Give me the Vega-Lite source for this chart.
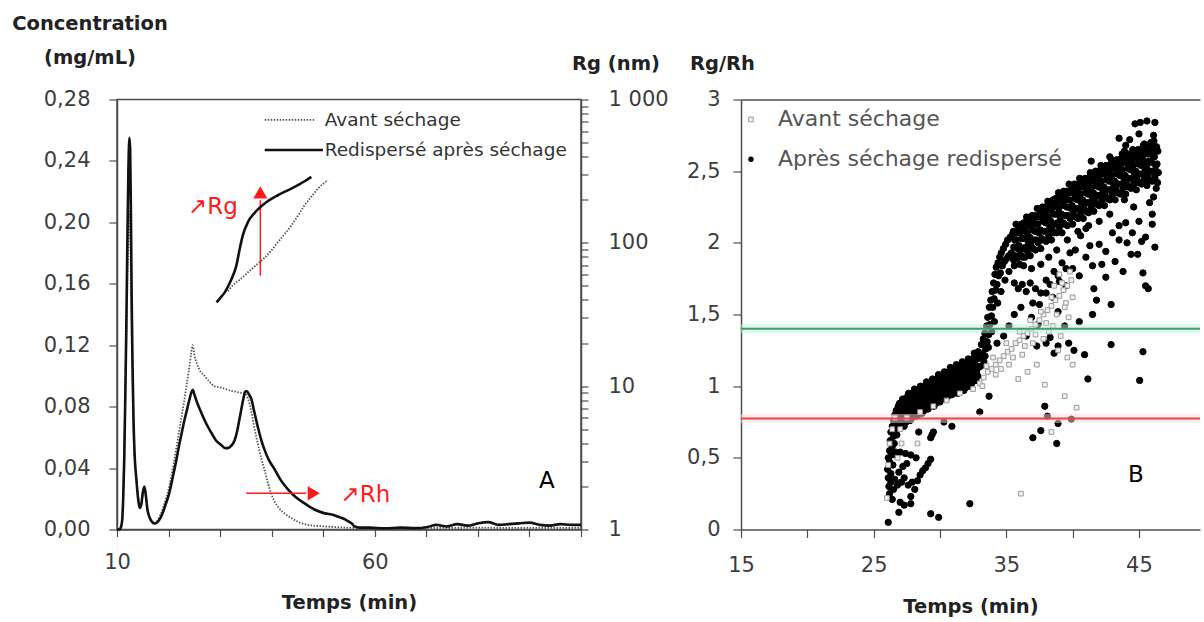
{
"$schema": "https://vega.github.io/schema/vega-lite/v6.json",
"padding": {"left": 10, "top": 12.5, "right": 0, "bottom": 0},
"background": "white",
"config": {
 "font": "DejaVu Sans",
 "view": {"stroke": null},
 "axis": {"grid": false, "labelFont": "DejaVu Sans", "labelFontSize": 21, "labelColor": "#3d3d3d", "titleFont": "DejaVu Sans", "titleFontSize": 19.5, "titleFontWeight": "bold", "titleColor": "#222222", "domainColor": "#4d4d4d", "domainWidth": 1.5, "tickColor": "#4d4d4d", "tickWidth": 1.2, "labelOverlap": false, "labelFlush": false}
},
"datasets": {
 "concRedisp": [
  {"t":10.0,"c":0.0},{"t":10.5,"c":0.0},{"t":10.8,"c":0.002},{"t":11.0,"c":0.006},{"t":11.2,"c":0.02},{"t":11.4,"c":0.045},{"t":11.6,"c":0.085},{"t":11.8,"c":0.13},{"t":12.0,"c":0.185},{"t":12.2,"c":0.232},{"t":12.4,"c":0.255},{"t":12.55,"c":0.248},{"t":12.7,"c":0.205},{"t":12.85,"c":0.15},{"t":13.0,"c":0.11},{"t":13.2,"c":0.072},{"t":13.4,"c":0.05},{"t":13.75,"c":0.033},{"t":14.1,"c":0.02},{"t":14.4,"c":0.014},{"t":14.7,"c":0.016},{"t":15.0,"c":0.024},{"t":15.3,"c":0.028},{"t":15.6,"c":0.022},{"t":15.9,"c":0.013},{"t":16.3,"c":0.008},{"t":16.8,"c":0.005},{"t":17.3,"c":0.004},{"t":17.9,"c":0.005},{"t":18.5,"c":0.008},{"t":19.0,"c":0.012},{"t":19.5,"c":0.017},{"t":20.0,"c":0.022},{"t":20.5,"c":0.029},{"t":21.0,"c":0.037},{"t":21.5,"c":0.045},{"t":22.0,"c":0.054},{"t":22.5,"c":0.062},{"t":23.0,"c":0.07},{"t":23.5,"c":0.077},{"t":24.0,"c":0.084},{"t":24.4,"c":0.089},{"t":24.7,"c":0.091},{"t":25.0,"c":0.088},{"t":25.5,"c":0.083},{"t":26.35,"c":0.076},{"t":27.3,"c":0.069},{"t":28.3,"c":0.063},{"t":29.2,"c":0.058},{"t":30.2,"c":0.055},{"t":31.0,"c":0.053},{"t":31.5,"c":0.053},{"t":32.0,"c":0.054},{"t":32.5,"c":0.056},{"t":32.8,"c":0.058},{"t":33.3,"c":0.064},{"t":33.7,"c":0.071},{"t":34.1,"c":0.078},{"t":34.5,"c":0.085},{"t":34.9,"c":0.09},{"t":35.2,"c":0.09},{"t":35.6,"c":0.088},{"t":36.05,"c":0.085},{"t":36.6,"c":0.077},{"t":37.3,"c":0.067},{"t":38.0,"c":0.058},{"t":38.6,"c":0.052},{"t":39.5,"c":0.045},{"t":40.6,"c":0.039},{"t":41.8,"c":0.032},{"t":43.2,"c":0.026},{"t":44.7,"c":0.021},{"t":46.4,"c":0.017},{"t":48.3,"c":0.013},{"t":50.3,"c":0.0105},{"t":52.0,"c":0.0095},{"t":52.9,"c":0.0083},{"t":54.0,"c":0.007},{"t":54.8,"c":0.0055},{"t":55.5,"c":0.004},{"t":56.1,"c":0.002},{"t":57.0,"c":0.0012},{"t":59.0,"c":0.0012},{"t":62.0,"c":0.0008},{"t":65.0,"c":0.0012},{"t":68.0,"c":0.0009},{"t":70.0,"c":0.0015},{"t":72.0,"c":0.003},{"t":74.0,"c":0.002},{"t":76.0,"c":0.0035},{"t":78.0,"c":0.0025},{"t":80.0,"c":0.004},{"t":82.0,"c":0.0048},{"t":84.0,"c":0.003},{"t":86.0,"c":0.0035},{"t":88.0,"c":0.004},{"t":90.0,"c":0.0045},{"t":92.0,"c":0.003},{"t":94.0,"c":0.0025},{"t":96.0,"c":0.0035},{"t":98.0,"c":0.003},{"t":100.0,"c":0.003}
 ],
 "concAvant": [
  {"t":10.0,"c":0.0},{"t":10.6,"c":0.0},{"t":10.9,"c":0.003},{"t":11.1,"c":0.012},{"t":11.3,"c":0.035},{"t":11.5,"c":0.07},{"t":11.7,"c":0.105},{"t":11.9,"c":0.14},{"t":12.1,"c":0.175},{"t":12.3,"c":0.2},{"t":12.45,"c":0.207},{"t":12.6,"c":0.19},{"t":12.75,"c":0.15},{"t":12.9,"c":0.115},{"t":13.1,"c":0.08},{"t":13.3,"c":0.055},{"t":13.6,"c":0.04},{"t":13.9,"c":0.028},{"t":14.2,"c":0.019},{"t":14.5,"c":0.015},{"t":14.8,"c":0.018},{"t":15.1,"c":0.025},{"t":15.35,"c":0.027},{"t":15.65,"c":0.021},{"t":16.0,"c":0.012},{"t":16.5,"c":0.006},{"t":17.0,"c":0.004},{"t":17.5,"c":0.004},{"t":18.0,"c":0.007},{"t":18.5,"c":0.01},{"t":19.0,"c":0.015},{"t":19.5,"c":0.02},{"t":20.0,"c":0.026},{"t":20.5,"c":0.034},{"t":21.0,"c":0.043},{"t":21.5,"c":0.053},{"t":22.0,"c":0.063},{"t":22.5,"c":0.073},{"t":23.0,"c":0.083},{"t":23.5,"c":0.094},{"t":24.0,"c":0.105},{"t":24.4,"c":0.115},{"t":24.7,"c":0.12},{"t":25.0,"c":0.114},{"t":25.5,"c":0.108},{"t":26.0,"c":0.104},{"t":27.0,"c":0.0999},{"t":28.0,"c":0.096},{"t":28.9,"c":0.0933},{"t":30.0,"c":0.0925},{"t":31.0,"c":0.0915},{"t":32.0,"c":0.0905},{"t":33.0,"c":0.0898},{"t":34.0,"c":0.089},{"t":34.8,"c":0.0887},{"t":35.3,"c":0.086},{"t":35.7,"c":0.082},{"t":36.1,"c":0.076},{"t":36.6,"c":0.067},{"t":37.3,"c":0.056},{"t":38.0,"c":0.046},{"t":38.6,"c":0.039},{"t":39.3,"c":0.03},{"t":39.9,"c":0.0235},{"t":40.6,"c":0.018},{"t":41.4,"c":0.014},{"t":42.5,"c":0.0105},{"t":43.8,"c":0.0075},{"t":45.1,"c":0.005},{"t":47.0,"c":0.003},{"t":50.3,"c":0.002},{"t":55.0,"c":0.0012},{"t":60.0,"c":0.001},{"t":70.0,"c":0.001},{"t":80.0,"c":0.0012},{"t":90.0,"c":0.001},{"t":100.0,"c":0.001}
 ],
 "rgRedisp": [
  {"t":29.3,"rg":38.4},{"t":30.1,"rg":41.5},{"t":30.9,"rg":45.1},{"t":31.7,"rg":51},{"t":32.5,"rg":59.1},{"t":33.15,"rg":69.4},{"t":33.8,"rg":90.7},{"t":34.4,"rg":112.7},{"t":35.4,"rg":139.7},{"t":36.7,"rg":162},{"t":38.6,"rg":187.6},{"t":41.2,"rg":214.8},{"t":43.8,"rg":239},{"t":46.4,"rg":269},{"t":47.7,"rg":288.5}
 ],
 "rgAvant": [
  {"t":31.5,"rg":46},{"t":32.5,"rg":50.7},{"t":34.0,"rg":56},{"t":35.4,"rg":62.3},{"t":37.0,"rg":70},{"t":38.6,"rg":78.5},{"t":40.0,"rg":89},{"t":41.2,"rg":101},{"t":42.5,"rg":115},{"t":43.8,"rg":132},{"t":45.1,"rg":155},{"t":46.4,"rg":183},{"t":47.7,"rg":210},{"t":49.0,"rg":239},{"t":50.9,"rg":274}
 ],
 "ratio": [
  {"t":26.05,"r":0.42,"s":"Après"},{"t":26.1,"r":0.5,"s":"Après"},{"t":26.1,"r":0.36,"s":"Après"},{"t":26.15,"r":0.3,"s":"Après"},{"t":26.2,"r":0.55,"s":"Après"},{"t":26.2,"r":0.47,"s":"Après"},{"t":26.25,"r":0.62,"s":"Après"},{"t":26.3,"r":0.39,"s":"Après"},{"t":26.3,"r":0.68,"s":"Après"},{"t":26.35,"r":0.52,"s":"Après"},{"t":26.4,"r":0.58,"s":"Après"},{"t":26.4,"r":0.72,"s":"Après"},{"t":26.45,"r":0.45,"s":"Après"},{"t":26.5,"r":0.65,"s":"Après"},{"t":26.5,"r":0.76,"s":"Après"},{"t":26.55,"r":0.6,"s":"Après"},{"t":26.6,"r":0.7,"s":"Après"},{"t":26.6,"r":0.8,"s":"Après"},{"t":26.65,"r":0.54,"s":"Après"},{"t":26.7,"r":0.74,"s":"Après"},{"t":26.7,"r":0.83,"s":"Après"},{"t":26.75,"r":0.66,"s":"Après"},{"t":26.8,"r":0.78,"s":"Après"},{"t":26.85,"r":0.86,"s":"Après"},{"t":26.9,"r":0.72,"s":"Après"},{"t":26.9,"r":0.81,"s":"Après"},{"t":26.95,"r":0.88,"s":"Après"},{"t":27.0,"r":0.77,"s":"Après"},
  {"t":26.1,"r":0.05,"s":"Après"},{"t":26.9,"r":0.12,"s":"Après"},{"t":27.8,"r":0.18,"s":"Après"},{"t":27.0,"r":0.19,"s":"Après"},{"t":27.8,"r":0.23,"s":"Après"},{"t":27.3,"r":0.17,"s":"Après"},{"t":26.3,"r":0.33,"s":"Après"},{"t":26.5,"r":0.28,"s":"Après"},{"t":26.6,"r":0.35,"s":"Après"},{"t":26.8,"r":0.31,"s":"Après"},{"t":27.1,"r":0.33,"s":"Après"},{"t":27.3,"r":0.36,"s":"Après"},{"t":27.6,"r":0.31,"s":"Après"},{"t":27.9,"r":0.33,"s":"Après"},{"t":28.1,"r":0.28,"s":"Après"},{"t":28.3,"r":0.34,"s":"Après"},{"t":28.5,"r":0.38,"s":"Après"},{"t":28.7,"r":0.41,"s":"Après"},{"t":28.9,"r":0.43,"s":"Après"},{"t":29.1,"r":0.46,"s":"Après"},{"t":29.3,"r":0.49,"s":"Après"},{"t":26.4,"r":0.53,"s":"Après"},{"t":26.7,"r":0.52,"s":"Après"},{"t":27.0,"r":0.54,"s":"Après"},{"t":27.4,"r":0.53,"s":"Après"},{"t":27.8,"r":0.52,"s":"Après"},{"t":28.2,"r":0.5,"s":"Après"},{"t":29.3,"r":0.11,"s":"Après"},{"t":29.9,"r":0.085,"s":"Après"},{"t":32.25,"r":0.18,"s":"Après"},{"t":26.2,"r":0.25,"s":"Après"},{"t":26.4,"r":0.21,"s":"Après"},{"t":28.4,"r":0.68,"s":"Après"},{"t":29.4,"r":0.66,"s":"Après"},{"t":29.5,"r":0.68,"s":"Après"},{"t":29.3,"r":0.64,"s":"Après"},{"t":30.3,"r":0.75,"s":"Après"},{"t":30.9,"r":0.72,"s":"Après"},{"t":33.0,"r":0.82,"s":"Après"},{"t":33.7,"r":0.93,"s":"Après"},{"t":27.2,"r":0.44,"s":"Après"},{"t":27.5,"r":0.46,"s":"Après"},{"t":26.9,"r":0.4,"s":"Après"},
  {"t":27.0,"r":0.71,"s":"Après"},{"t":27.05,"r":0.77,"s":"Après"},{"t":26.96,"r":0.83,"s":"Après"},{"t":27.03,"r":0.88,"s":"Après"},{"t":27.15,"r":0.74,"s":"Après"},{"t":27.2,"r":0.8,"s":"Après"},{"t":27.11,"r":0.86,"s":"Après"},{"t":27.18,"r":0.91,"s":"Après"},{"t":27.3,"r":0.72,"s":"Après"},{"t":27.35,"r":0.78,"s":"Après"},{"t":27.26,"r":0.83,"s":"Après"},{"t":27.33,"r":0.88,"s":"Après"},{"t":27.45,"r":0.75,"s":"Après"},{"t":27.5,"r":0.81,"s":"Après"},{"t":27.41,"r":0.87,"s":"Après"},{"t":27.48,"r":0.92,"s":"Après"},{"t":27.6,"r":0.78,"s":"Après"},{"t":27.65,"r":0.84,"s":"Après"},{"t":27.56,"r":0.9,"s":"Après"},{"t":27.63,"r":0.95,"s":"Après"},{"t":27.75,"r":0.76,"s":"Après"},{"t":27.8,"r":0.82,"s":"Après"},{"t":27.71,"r":0.87,"s":"Après"},{"t":27.78,"r":0.92,"s":"Après"},{"t":27.9,"r":0.78,"s":"Après"},{"t":27.95,"r":0.84,"s":"Après"},{"t":27.86,"r":0.9,"s":"Après"},{"t":27.93,"r":0.95,"s":"Après"},{"t":28.05,"r":0.81,"s":"Après"},{"t":28.1,"r":0.87,"s":"Après"},{"t":28.01,"r":0.93,"s":"Après"},{"t":28.08,"r":0.98,"s":"Après"},{"t":28.2,"r":0.79,"s":"Après"},{"t":28.25,"r":0.85,"s":"Après"},{"t":28.16,"r":0.9,"s":"Après"},{"t":28.23,"r":0.95,"s":"Après"},{"t":28.35,"r":0.8,"s":"Après"},{"t":28.4,"r":0.86,"s":"Après"},{"t":28.31,"r":0.92,"s":"Après"},{"t":28.38,"r":0.97,"s":"Après"},{"t":28.5,"r":0.83,"s":"Après"},{"t":28.55,"r":0.89,"s":"Après"},{"t":28.46,"r":0.95,"s":"Après"},{"t":28.53,"r":1.0,"s":"Après"},{"t":28.65,"r":0.81,"s":"Après"},{"t":28.7,"r":0.87,"s":"Après"},{"t":28.61,"r":0.92,"s":"Après"},{"t":28.68,"r":0.97,"s":"Après"},{"t":28.8,"r":0.83,"s":"Après"},{"t":28.85,"r":0.89,"s":"Après"},{"t":28.76,"r":0.95,"s":"Après"},{"t":28.83,"r":1.0,"s":"Après"},{"t":28.95,"r":0.86,"s":"Après"},{"t":29.0,"r":0.92,"s":"Après"},{"t":28.91,"r":0.98,"s":"Après"},{"t":28.98,"r":1.03,"s":"Après"},{"t":29.1,"r":0.84,"s":"Après"},{"t":29.15,"r":0.9,"s":"Après"},{"t":29.06,"r":0.95,"s":"Après"},{"t":29.13,"r":1.0,"s":"Après"},{"t":29.25,"r":0.86,"s":"Après"},{"t":29.3,"r":0.92,"s":"Après"},{"t":29.21,"r":0.98,"s":"Après"},{"t":29.28,"r":1.03,"s":"Après"},{"t":29.4,"r":0.88,"s":"Après"},{"t":29.45,"r":0.94,"s":"Après"},{"t":29.36,"r":1.0,"s":"Après"},{"t":29.43,"r":1.05,"s":"Après"},{"t":29.55,"r":0.86,"s":"Après"},{"t":29.6,"r":0.92,"s":"Après"},{"t":29.51,"r":0.97,"s":"Après"},{"t":29.58,"r":1.02,"s":"Après"},{"t":29.7,"r":0.88,"s":"Après"},{"t":29.75,"r":0.94,"s":"Après"},{"t":29.66,"r":1.0,"s":"Après"},{"t":29.73,"r":1.05,"s":"Après"},{"t":29.85,"r":0.91,"s":"Après"},{"t":29.9,"r":0.97,"s":"Après"},{"t":29.81,"r":1.03,"s":"Après"},{"t":29.88,"r":1.08,"s":"Après"},{"t":30.0,"r":0.89,"s":"Après"},{"t":30.05,"r":0.95,"s":"Après"},{"t":29.96,"r":1.0,"s":"Après"},{"t":30.03,"r":1.05,"s":"Après"},{"t":30.15,"r":0.91,"s":"Après"},{"t":30.2,"r":0.97,"s":"Après"},{"t":30.11,"r":1.03,"s":"Après"},{"t":30.18,"r":1.08,"s":"Après"},{"t":30.3,"r":0.94,"s":"Après"},{"t":30.35,"r":1.0,"s":"Après"},{"t":30.26,"r":1.06,"s":"Après"},{"t":30.33,"r":1.1,"s":"Après"},{"t":30.45,"r":0.91,"s":"Après"},{"t":30.5,"r":0.97,"s":"Après"},{"t":30.41,"r":1.02,"s":"Après"},{"t":30.48,"r":1.07,"s":"Après"},{"t":30.6,"r":0.93,"s":"Après"},{"t":30.65,"r":0.99,"s":"Après"},{"t":30.56,"r":1.05,"s":"Après"},{"t":30.63,"r":1.1,"s":"Après"},{"t":30.75,"r":0.96,"s":"Après"},{"t":30.8,"r":1.02,"s":"Après"},{"t":30.71,"r":1.08,"s":"Après"},{"t":30.78,"r":1.13,"s":"Après"},{"t":30.9,"r":0.94,"s":"Après"},{"t":30.95,"r":1.0,"s":"Après"},{"t":30.86,"r":1.05,"s":"Après"},{"t":30.93,"r":1.1,"s":"Après"},{"t":31.05,"r":0.95,"s":"Après"},{"t":31.1,"r":1.01,"s":"Après"},{"t":31.01,"r":1.07,"s":"Après"},{"t":31.08,"r":1.12,"s":"Après"},{"t":31.2,"r":0.98,"s":"Après"},{"t":31.25,"r":1.04,"s":"Après"},{"t":31.16,"r":1.1,"s":"Après"},{"t":31.23,"r":1.15,"s":"Après"},{"t":31.35,"r":0.95,"s":"Après"},{"t":31.4,"r":1.01,"s":"Après"},{"t":31.31,"r":1.06,"s":"Après"},{"t":31.38,"r":1.11,"s":"Après"},{"t":31.5,"r":0.97,"s":"Après"},{"t":31.55,"r":1.03,"s":"Après"},{"t":31.46,"r":1.09,"s":"Après"},{"t":31.53,"r":1.14,"s":"Après"},{"t":31.65,"r":1.0,"s":"Après"},{"t":31.7,"r":1.06,"s":"Après"},{"t":31.61,"r":1.12,"s":"Après"},{"t":31.68,"r":1.17,"s":"Après"},{"t":31.8,"r":0.97,"s":"Après"},{"t":31.85,"r":1.03,"s":"Après"},{"t":31.76,"r":1.08,"s":"Après"},{"t":31.83,"r":1.13,"s":"Après"},{"t":31.95,"r":0.99,"s":"Après"},{"t":32.0,"r":1.05,"s":"Après"},{"t":31.91,"r":1.11,"s":"Après"},{"t":31.98,"r":1.16,"s":"Après"},{"t":32.1,"r":1.02,"s":"Après"},{"t":32.15,"r":1.08,"s":"Après"},{"t":32.06,"r":1.14,"s":"Après"},{"t":32.13,"r":1.19,"s":"Après"},{"t":32.25,"r":1.0,"s":"Après"},{"t":32.3,"r":1.06,"s":"Après"},{"t":32.21,"r":1.11,"s":"Après"},{"t":32.28,"r":1.16,"s":"Après"},{"t":32.4,"r":1.02,"s":"Après"},{"t":32.45,"r":1.08,"s":"Après"},{"t":32.36,"r":1.14,"s":"Après"},{"t":32.43,"r":1.19,"s":"Après"},{"t":32.55,"r":1.06,"s":"Après"},{"t":32.6,"r":1.12,"s":"Après"},{"t":32.51,"r":1.18,"s":"Après"},{"t":32.58,"r":1.23,"s":"Après"},{"t":32.7,"r":1.04,"s":"Après"},{"t":32.75,"r":1.1,"s":"Après"},{"t":32.66,"r":1.15,"s":"Après"},{"t":32.73,"r":1.2,"s":"Après"},{"t":32.85,"r":1.07,"s":"Après"},{"t":32.9,"r":1.13,"s":"Après"},{"t":32.81,"r":1.19,"s":"Après"},{"t":32.88,"r":1.24,"s":"Après"},
  {"t":33.0,"r":1.2,"s":"Après"},{"t":33.08,"r":1.14,"s":"Après"},{"t":33.12,"r":1.29,"s":"Après"},{"t":33.2,"r":1.23,"s":"Après"},{"t":33.26,"r":1.33,"s":"Après"},{"t":33.31,"r":1.17,"s":"Après"},{"t":33.38,"r":1.37,"s":"Après"},{"t":33.45,"r":1.26,"s":"Après"},{"t":33.52,"r":1.42,"s":"Après"},{"t":33.55,"r":1.31,"s":"Après"},{"t":33.6,"r":1.48,"s":"Après"},{"t":33.68,"r":1.36,"s":"Après"},{"t":33.72,"r":1.55,"s":"Après"},{"t":33.77,"r":1.43,"s":"Après"},{"t":33.83,"r":1.6,"s":"Après"},{"t":33.88,"r":1.49,"s":"Après"},{"t":33.93,"r":1.66,"s":"Après"},{"t":33.98,"r":1.55,"s":"Après"},{"t":34.04,"r":1.72,"s":"Après"},{"t":34.08,"r":1.61,"s":"Après"},{"t":34.14,"r":1.78,"s":"Après"},{"t":34.2,"r":1.67,"s":"Après"},{"t":34.24,"r":1.83,"s":"Après"},{"t":34.3,"r":1.71,"s":"Après"},{"t":34.37,"r":1.86,"s":"Après"},{"t":34.42,"r":1.77,"s":"Après"},{"t":34.5,"r":1.9,"s":"Après"},{"t":34.55,"r":1.79,"s":"Après"},{"t":34.62,"r":1.93,"s":"Après"},{"t":34.7,"r":1.84,"s":"Après"},{"t":34.78,"r":1.96,"s":"Après"},{"t":34.86,"r":1.87,"s":"Après"},{"t":34.95,"r":1.99,"s":"Après"},{"t":35.02,"r":1.89,"s":"Après"},{"t":35.1,"r":2.02,"s":"Après"},{"t":35.18,"r":1.91,"s":"Après"},{"t":35.3,"r":2.04,"s":"Après"},{"t":35.38,"r":1.93,"s":"Après"},{"t":35.47,"r":2.06,"s":"Après"},{"t":35.55,"r":1.88,"s":"Après"},{"t":33.4,"r":1.21,"s":"Après"},{"t":33.65,"r":1.27,"s":"Après"},{"t":33.9,"r":1.38,"s":"Après"},{"t":34.1,"r":1.45,"s":"Après"},{"t":34.35,"r":1.58,"s":"Après"},{"t":34.6,"r":1.66,"s":"Après"},{"t":34.9,"r":1.74,"s":"Après"},{"t":35.2,"r":1.8,"s":"Après"},
  {"t":35.6,"r":1.84,"s":"Après"},{"t":35.66,"r":1.91,"s":"Après"},{"t":35.56,"r":1.97,"s":"Après"},{"t":35.63,"r":2.02,"s":"Après"},{"t":35.53,"r":2.08,"s":"Après"},{"t":35.8,"r":1.89,"s":"Après"},{"t":35.86,"r":1.96,"s":"Après"},{"t":35.76,"r":2.02,"s":"Après"},{"t":35.83,"r":2.07,"s":"Après"},{"t":35.73,"r":2.13,"s":"Après"},{"t":36.0,"r":1.85,"s":"Après"},{"t":36.06,"r":1.92,"s":"Après"},{"t":35.96,"r":1.98,"s":"Après"},{"t":36.03,"r":2.07,"s":"Après"},{"t":35.93,"r":2.1,"s":"Après"},{"t":36.2,"r":1.9,"s":"Après"},{"t":36.26,"r":1.96,"s":"Après"},{"t":36.16,"r":2.03,"s":"Après"},{"t":36.23,"r":2.1,"s":"Après"},{"t":36.13,"r":2.13,"s":"Après"},{"t":36.4,"r":1.9,"s":"Après"},{"t":36.46,"r":1.97,"s":"Après"},{"t":36.36,"r":2.03,"s":"Après"},{"t":36.43,"r":2.08,"s":"Après"},{"t":36.33,"r":2.14,"s":"Après"},{"t":36.6,"r":1.94,"s":"Après"},{"t":36.66,"r":2.01,"s":"Après"},{"t":36.56,"r":2.07,"s":"Après"},{"t":36.63,"r":2.12,"s":"Après"},{"t":36.53,"r":2.18,"s":"Après"},{"t":36.8,"r":1.91,"s":"Après"},{"t":36.86,"r":1.98,"s":"Après"},{"t":36.76,"r":2.04,"s":"Après"},{"t":36.83,"r":2.13,"s":"Après"},{"t":36.73,"r":2.16,"s":"Après"},{"t":37.0,"r":1.96,"s":"Après"},{"t":37.06,"r":2.02,"s":"Après"},{"t":36.96,"r":2.09,"s":"Après"},{"t":37.03,"r":2.16,"s":"Après"},{"t":36.93,"r":2.19,"s":"Après"},{"t":37.2,"r":1.95,"s":"Après"},{"t":37.26,"r":2.02,"s":"Après"},{"t":37.16,"r":2.08,"s":"Après"},{"t":37.23,"r":2.13,"s":"Après"},{"t":37.13,"r":2.19,"s":"Après"},{"t":37.4,"r":2.0,"s":"Après"},{"t":37.46,"r":2.07,"s":"Après"},{"t":37.36,"r":2.13,"s":"Après"},{"t":37.43,"r":2.18,"s":"Après"},{"t":37.33,"r":2.24,"s":"Après"},{"t":37.6,"r":1.96,"s":"Après"},{"t":37.66,"r":2.03,"s":"Après"},{"t":37.56,"r":2.09,"s":"Après"},{"t":37.63,"r":2.18,"s":"Après"},{"t":37.53,"r":2.21,"s":"Après"},{"t":37.8,"r":2.02,"s":"Après"},{"t":37.86,"r":2.08,"s":"Après"},{"t":37.76,"r":2.15,"s":"Après"},{"t":37.83,"r":2.22,"s":"Après"},{"t":37.73,"r":2.25,"s":"Après"},{"t":38.0,"r":2.01,"s":"Après"},{"t":38.06,"r":2.08,"s":"Après"},{"t":37.96,"r":2.14,"s":"Après"},{"t":38.03,"r":2.19,"s":"Après"},{"t":37.93,"r":2.25,"s":"Après"},{"t":38.2,"r":2.05,"s":"Après"},{"t":38.26,"r":2.12,"s":"Après"},{"t":38.16,"r":2.18,"s":"Après"},{"t":38.23,"r":2.23,"s":"Après"},{"t":38.13,"r":2.29,"s":"Après"},{"t":38.4,"r":2.02,"s":"Après"},{"t":38.46,"r":2.09,"s":"Après"},{"t":38.36,"r":2.15,"s":"Après"},{"t":38.43,"r":2.24,"s":"Après"},{"t":38.33,"r":2.27,"s":"Après"},{"t":38.6,"r":2.07,"s":"Après"},{"t":38.66,"r":2.13,"s":"Après"},{"t":38.56,"r":2.2,"s":"Après"},{"t":38.63,"r":2.27,"s":"Après"},{"t":38.53,"r":2.3,"s":"Après"},{"t":38.8,"r":2.07,"s":"Après"},{"t":38.86,"r":2.14,"s":"Après"},{"t":38.76,"r":2.2,"s":"Après"},{"t":38.83,"r":2.25,"s":"Après"},{"t":38.73,"r":2.31,"s":"Après"},{"t":39.0,"r":2.11,"s":"Après"},{"t":39.06,"r":2.18,"s":"Après"},{"t":38.96,"r":2.24,"s":"Après"},{"t":39.03,"r":2.29,"s":"Après"},{"t":38.93,"r":2.35,"s":"Après"},{"t":39.2,"r":2.07,"s":"Après"},{"t":39.26,"r":2.14,"s":"Après"},{"t":39.16,"r":2.2,"s":"Après"},{"t":39.23,"r":2.29,"s":"Après"},{"t":39.13,"r":2.32,"s":"Après"},{"t":39.4,"r":2.13,"s":"Après"},{"t":39.46,"r":2.19,"s":"Après"},{"t":39.36,"r":2.26,"s":"Après"},{"t":39.43,"r":2.33,"s":"Après"},{"t":39.33,"r":2.36,"s":"Après"},{"t":39.6,"r":2.12,"s":"Après"},{"t":39.66,"r":2.19,"s":"Après"},{"t":39.56,"r":2.25,"s":"Après"},{"t":39.63,"r":2.3,"s":"Après"},{"t":39.53,"r":2.36,"s":"Après"},{"t":39.8,"r":2.17,"s":"Après"},{"t":39.86,"r":2.24,"s":"Après"},{"t":39.76,"r":2.3,"s":"Après"},{"t":39.83,"r":2.35,"s":"Après"},{"t":39.73,"r":2.41,"s":"Après"},{"t":40.0,"r":2.13,"s":"Après"},{"t":40.06,"r":2.2,"s":"Après"},{"t":39.96,"r":2.26,"s":"Après"},{"t":40.03,"r":2.35,"s":"Après"},{"t":39.93,"r":2.38,"s":"Après"},{"t":40.2,"r":2.18,"s":"Après"},{"t":40.26,"r":2.24,"s":"Après"},{"t":40.16,"r":2.31,"s":"Après"},{"t":40.23,"r":2.38,"s":"Après"},{"t":40.13,"r":2.41,"s":"Après"},{"t":40.4,"r":2.17,"s":"Après"},{"t":40.46,"r":2.24,"s":"Après"},{"t":40.36,"r":2.3,"s":"Après"},{"t":40.43,"r":2.35,"s":"Après"},{"t":40.33,"r":2.41,"s":"Après"},{"t":40.6,"r":2.21,"s":"Après"},{"t":40.66,"r":2.28,"s":"Après"},{"t":40.56,"r":2.34,"s":"Après"},{"t":40.63,"r":2.39,"s":"Après"},{"t":40.53,"r":2.45,"s":"Après"},{"t":40.8,"r":2.17,"s":"Après"},{"t":40.86,"r":2.24,"s":"Après"},{"t":40.76,"r":2.3,"s":"Après"},{"t":40.83,"r":2.39,"s":"Après"},{"t":40.73,"r":2.42,"s":"Après"},{"t":41.0,"r":2.22,"s":"Après"},{"t":41.06,"r":2.28,"s":"Après"},{"t":40.96,"r":2.35,"s":"Après"},{"t":41.03,"r":2.42,"s":"Après"},{"t":40.93,"r":2.45,"s":"Après"},{"t":41.2,"r":2.21,"s":"Après"},{"t":41.26,"r":2.28,"s":"Après"},{"t":41.16,"r":2.34,"s":"Après"},{"t":41.23,"r":2.39,"s":"Après"},{"t":41.13,"r":2.45,"s":"Après"},{"t":41.4,"r":2.25,"s":"Après"},{"t":41.46,"r":2.32,"s":"Après"},{"t":41.36,"r":2.38,"s":"Après"},{"t":41.43,"r":2.43,"s":"Après"},{"t":41.33,"r":2.49,"s":"Après"},{"t":41.6,"r":2.22,"s":"Après"},{"t":41.66,"r":2.29,"s":"Après"},{"t":41.56,"r":2.35,"s":"Après"},{"t":41.63,"r":2.44,"s":"Après"},{"t":41.53,"r":2.47,"s":"Après"},{"t":41.8,"r":2.27,"s":"Après"},{"t":41.86,"r":2.33,"s":"Après"},{"t":41.76,"r":2.4,"s":"Après"},{"t":41.83,"r":2.47,"s":"Après"},{"t":41.73,"r":2.5,"s":"Après"},{"t":42.0,"r":2.26,"s":"Après"},{"t":42.06,"r":2.33,"s":"Après"},{"t":41.96,"r":2.39,"s":"Après"},{"t":42.03,"r":2.44,"s":"Après"},{"t":41.93,"r":2.5,"s":"Après"},{"t":42.2,"r":2.3,"s":"Après"},{"t":42.26,"r":2.37,"s":"Après"},{"t":42.16,"r":2.43,"s":"Après"},{"t":42.23,"r":2.48,"s":"Après"},{"t":42.13,"r":2.54,"s":"Après"},{"t":42.4,"r":2.26,"s":"Après"},{"t":42.46,"r":2.33,"s":"Après"},{"t":42.36,"r":2.39,"s":"Après"},{"t":42.43,"r":2.48,"s":"Après"},{"t":42.33,"r":2.51,"s":"Après"},{"t":42.6,"r":2.31,"s":"Après"},{"t":42.66,"r":2.37,"s":"Après"},{"t":42.56,"r":2.44,"s":"Après"},{"t":42.63,"r":2.51,"s":"Après"},{"t":42.53,"r":2.54,"s":"Après"},{"t":42.8,"r":2.3,"s":"Après"},{"t":42.86,"r":2.37,"s":"Après"},{"t":42.76,"r":2.43,"s":"Après"},{"t":42.83,"r":2.48,"s":"Après"},{"t":42.73,"r":2.54,"s":"Après"},{"t":43.0,"r":2.34,"s":"Après"},{"t":43.06,"r":2.41,"s":"Après"},{"t":42.96,"r":2.47,"s":"Après"},{"t":43.03,"r":2.52,"s":"Après"},{"t":42.93,"r":2.58,"s":"Après"},{"t":43.2,"r":2.3,"s":"Après"},{"t":43.26,"r":2.37,"s":"Après"},{"t":43.16,"r":2.43,"s":"Après"},{"t":43.23,"r":2.52,"s":"Après"},{"t":43.13,"r":2.55,"s":"Après"},{"t":43.4,"r":2.35,"s":"Après"},{"t":43.46,"r":2.41,"s":"Après"},{"t":43.36,"r":2.48,"s":"Après"},{"t":43.43,"r":2.55,"s":"Après"},{"t":43.33,"r":2.58,"s":"Après"},{"t":43.6,"r":2.34,"s":"Après"},{"t":43.66,"r":2.41,"s":"Après"},{"t":43.56,"r":2.47,"s":"Après"},{"t":43.63,"r":2.52,"s":"Après"},{"t":43.53,"r":2.58,"s":"Après"},{"t":43.8,"r":2.38,"s":"Après"},{"t":43.86,"r":2.45,"s":"Après"},{"t":43.76,"r":2.51,"s":"Après"},{"t":43.83,"r":2.56,"s":"Après"},{"t":43.73,"r":2.62,"s":"Après"},{"t":44.0,"r":2.34,"s":"Après"},{"t":44.06,"r":2.41,"s":"Après"},{"t":43.96,"r":2.47,"s":"Après"},{"t":44.03,"r":2.56,"s":"Après"},{"t":43.93,"r":2.59,"s":"Après"},{"t":44.2,"r":2.39,"s":"Après"},{"t":44.26,"r":2.45,"s":"Après"},{"t":44.16,"r":2.52,"s":"Après"},{"t":44.23,"r":2.59,"s":"Après"},{"t":44.13,"r":2.62,"s":"Après"},{"t":44.4,"r":2.38,"s":"Après"},{"t":44.46,"r":2.45,"s":"Après"},{"t":44.36,"r":2.51,"s":"Après"},{"t":44.43,"r":2.56,"s":"Après"},{"t":44.33,"r":2.62,"s":"Après"},{"t":44.6,"r":2.41,"s":"Après"},{"t":44.66,"r":2.48,"s":"Après"},{"t":44.56,"r":2.54,"s":"Après"},{"t":44.63,"r":2.59,"s":"Après"},{"t":44.53,"r":2.65,"s":"Après"},{"t":44.8,"r":2.37,"s":"Après"},{"t":44.86,"r":2.44,"s":"Après"},{"t":44.76,"r":2.5,"s":"Après"},{"t":44.83,"r":2.59,"s":"Après"},{"t":44.73,"r":2.62,"s":"Après"},{"t":45.0,"r":2.42,"s":"Après"},{"t":45.06,"r":2.48,"s":"Après"},{"t":44.96,"r":2.55,"s":"Après"},{"t":45.03,"r":2.62,"s":"Après"},{"t":44.93,"r":2.65,"s":"Après"},{"t":45.2,"r":2.41,"s":"Après"},{"t":45.26,"r":2.48,"s":"Après"},{"t":45.16,"r":2.54,"s":"Après"},{"t":45.23,"r":2.59,"s":"Après"},{"t":45.13,"r":2.65,"s":"Après"},{"t":45.4,"r":2.44,"s":"Après"},{"t":45.46,"r":2.51,"s":"Après"},{"t":45.36,"r":2.57,"s":"Après"},{"t":45.43,"r":2.62,"s":"Après"},{"t":45.33,"r":2.68,"s":"Après"},{"t":45.6,"r":2.4,"s":"Après"},{"t":45.66,"r":2.47,"s":"Après"},{"t":45.56,"r":2.53,"s":"Après"},{"t":45.63,"r":2.62,"s":"Après"},{"t":45.53,"r":2.65,"s":"Après"},{"t":45.8,"r":2.44,"s":"Après"},{"t":45.86,"r":2.5,"s":"Après"},{"t":45.76,"r":2.57,"s":"Après"},{"t":45.83,"r":2.64,"s":"Après"},{"t":45.73,"r":2.67,"s":"Après"},{"t":46.0,"r":2.43,"s":"Après"},{"t":46.06,"r":2.5,"s":"Après"},{"t":45.96,"r":2.56,"s":"Après"},{"t":46.03,"r":2.61,"s":"Après"},{"t":45.93,"r":2.67,"s":"Après"},{"t":46.2,"r":2.47,"s":"Après"},{"t":46.26,"r":2.54,"s":"Après"},{"t":46.16,"r":2.6,"s":"Après"},{"t":46.23,"r":2.65,"s":"Après"},{"t":46.13,"r":2.71,"s":"Après"},{"t":46.4,"r":2.42,"s":"Après"},{"t":46.46,"r":2.49,"s":"Après"},{"t":46.36,"r":2.55,"s":"Après"},{"t":46.43,"r":2.64,"s":"Après"},{"t":46.33,"r":2.67,"s":"Après"},
  {"t":44.7,"r":2.83,"s":"Après"},{"t":45.1,"r":2.84,"s":"Après"},{"t":45.6,"r":2.85,"s":"Après"},{"t":46.2,"r":2.84,"s":"Après"},{"t":43.5,"r":2.73,"s":"Après"},{"t":44.3,"r":2.72,"s":"Après"},{"t":45.0,"r":2.76,"s":"Après"},{"t":45.9,"r":2.7,"s":"Après"},{"t":46.1,"r":2.75,"s":"Après"},{"t":44.0,"r":2.68,"s":"Après"},{"t":45.4,"r":2.69,"s":"Après"},{"t":41.4,"r":2.57,"s":"Après"},{"t":42.8,"r":2.6,"s":"Après"},{"t":43.9,"r":2.64,"s":"Après"},{"t":46.3,"r":2.5,"s":"Après"},{"t":46.2,"r":2.45,"s":"Après"},{"t":46.3,"r":2.38,"s":"Après"},{"t":46.1,"r":2.32,"s":"Après"},
  {"t":35.6,"r":1.72,"s":"Après"},{"t":35.9,"r":1.68,"s":"Après"},{"t":36.2,"r":1.71,"s":"Après"},{"t":36.5,"r":1.66,"s":"Après"},{"t":36.8,"r":1.72,"s":"Après"},{"t":37.2,"r":1.68,"s":"Après"},{"t":37.6,"r":1.65,"s":"Après"},{"t":38.0,"r":1.74,"s":"Après"},{"t":38.3,"r":1.71,"s":"Après"},{"t":38.6,"r":1.8,"s":"Après"},{"t":38.9,"r":1.77,"s":"Après"},{"t":39.2,"r":1.86,"s":"Après"},{"t":39.5,"r":1.82,"s":"Après"},{"t":39.8,"r":1.93,"s":"Après"},
  {"t":37.0,"r":1.58,"s":"Après"},{"t":37.5,"r":1.57,"s":"Après"},{"t":38.0,"r":1.65,"s":"Après"},{"t":38.5,"r":1.62,"s":"Après"},{"t":39.0,"r":1.73,"s":"Après"},{"t":39.5,"r":1.7,"s":"Après"},{"t":40.0,"r":1.82,"s":"Après"},{"t":40.5,"r":1.77,"s":"Après"},{"t":41.0,"r":1.9,"s":"Après"},{"t":41.5,"r":1.84,"s":"Après"},{"t":42.0,"r":1.99,"s":"Après"},{"t":42.5,"r":1.94,"s":"Après"},{"t":43.0,"r":2.07,"s":"Après"},{"t":43.5,"r":2.02,"s":"Après"},{"t":44.0,"r":2.14,"s":"Après"},{"t":44.5,"r":2.07,"s":"Après"},{"t":45.0,"r":2.15,"s":"Après"},{"t":45.5,"r":2.04,"s":"Après"},{"t":46.0,"r":2.13,"s":"Après"},
  {"t":40.2,"r":1.95,"s":"Après"},{"t":40.6,"r":2.05,"s":"Après"},{"t":41.0,"r":2.1,"s":"Après"},{"t":41.3,"r":1.98,"s":"Après"},{"t":41.6,"r":1.68,"s":"Après"},{"t":41.8,"r":1.6,"s":"Après"},{"t":42.2,"r":1.85,"s":"Après"},{"t":42.5,"r":1.76,"s":"Après"},{"t":42.9,"r":1.57,"s":"Après"},{"t":43.2,"r":1.87,"s":"Après"},{"t":43.5,"r":2.12,"s":"Après"},{"t":43.8,"r":1.8,"s":"Après"},{"t":44.1,"r":2.0,"s":"Après"},{"t":44.4,"r":1.92,"s":"Après"},{"t":44.9,"r":1.92,"s":"Après"},{"t":45.2,"r":2.01,"s":"Après"},{"t":45.3,"r":1.79,"s":"Après"},{"t":45.5,"r":1.7,"s":"Après"},{"t":45.7,"r":1.68,"s":"Après"},{"t":46.2,"r":1.97,"s":"Après"},{"t":46.0,"r":2.2,"s":"Après"},{"t":45.8,"r":2.28,"s":"Après"},{"t":44.6,"r":2.25,"s":"Après"},{"t":43.9,"r":2.3,"s":"Après"},{"t":42.8,"r":2.2,"s":"Après"},{"t":42.0,"r":2.15,"s":"Après"},{"t":41.2,"r":2.12,"s":"Après"},{"t":40.4,"r":2.08,"s":"Après"},{"t":39.6,"r":2.02,"s":"Après"},{"t":38.8,"r":1.95,"s":"Après"},{"t":38.2,"r":1.9,"s":"Après"},{"t":37.6,"r":1.85,"s":"Après"},{"t":36.9,"r":1.82,"s":"Après"},{"t":36.3,"r":1.84,"s":"Après"},
  {"t":38.0,"r":1.3,"s":"Après"},{"t":38.3,"r":1.34,"s":"Après"},{"t":38.9,"r":1.28,"s":"Après"},{"t":39.7,"r":1.3,"s":"Après"},{"t":40.1,"r":1.25,"s":"Après"},{"t":40.9,"r":1.22,"s":"Après"},{"t":41.15,"r":1.05,"s":"Après"},{"t":42.9,"r":1.29,"s":"Après"},{"t":45.05,"r":1.04,"s":"Après"},{"t":45.3,"r":1.24,"s":"Après"},{"t":38.6,"r":1.23,"s":"Après"},{"t":39.4,"r":1.42,"s":"Après"},{"t":40.5,"r":1.45,"s":"Après"},{"t":41.5,"r":1.5,"s":"Après"},{"t":37.4,"r":1.43,"s":"Après"},{"t":36.9,"r":1.48,"s":"Après"},{"t":38.9,"r":1.52,"s":"Après"},{"t":37.9,"r":0.86,"s":"Après"},{"t":38.1,"r":0.79,"s":"Après"},{"t":38.9,"r":0.74,"s":"Après"},{"t":39.9,"r":0.77,"s":"Après"},{"t":37.0,"r":0.64,"s":"Après"},{"t":37.6,"r":0.69,"s":"Après"},{"t":38.8,"r":0.6,"s":"Après"},{"t":36.5,"r":1.35,"s":"Après"},{"t":37.3,"r":1.28,"s":"Après"},{"t":34.3,"r":1.3,"s":"Après"},{"t":34.8,"r":1.35,"s":"Après"},{"t":35.2,"r":1.42,"s":"Après"},{"t":35.6,"r":1.5,"s":"Après"},{"t":36.1,"r":1.55,"s":"Après"},
  {"t":26.0,"r":0.22,"s":"Avant"},{"t":26.1,"r":0.45,"s":"Avant"},{"t":26.2,"r":0.6,"s":"Avant"},{"t":26.4,"r":0.7,"s":"Avant"},{"t":26.6,"r":0.78,"s":"Avant"},{"t":27.1,"r":0.6,"s":"Avant"},{"t":28.3,"r":0.6,"s":"Avant"},{"t":26.8,"r":0.5,"s":"Avant"},
  {"t":33.0,"r":1.02,"s":"Avant"},{"t":33.3,"r":1.06,"s":"Avant"},{"t":33.6,"r":1.1,"s":"Avant"},{"t":33.9,"r":1.12,"s":"Avant"},{"t":34.2,"r":1.15,"s":"Avant"},{"t":34.5,"r":1.18,"s":"Avant"},{"t":34.8,"r":1.21,"s":"Avant"},{"t":35.1,"r":1.24,"s":"Avant"},{"t":35.4,"r":1.26,"s":"Avant"},{"t":35.7,"r":1.3,"s":"Avant"},{"t":36.0,"r":1.32,"s":"Avant"},{"t":36.3,"r":1.35,"s":"Avant"},{"t":36.6,"r":1.37,"s":"Avant"},{"t":36.9,"r":1.4,"s":"Avant"},{"t":37.2,"r":1.43,"s":"Avant"},{"t":37.5,"r":1.46,"s":"Avant"},{"t":37.8,"r":1.5,"s":"Avant"},{"t":38.1,"r":1.53,"s":"Avant"},{"t":38.4,"r":1.56,"s":"Avant"},{"t":38.7,"r":1.6,"s":"Avant"},{"t":39.0,"r":1.63,"s":"Avant"},{"t":39.3,"r":1.67,"s":"Avant"},{"t":39.6,"r":1.7,"s":"Avant"},{"t":39.9,"r":1.74,"s":"Avant"},
  {"t":33.5,"r":1.14,"s":"Avant"},{"t":34.0,"r":1.2,"s":"Avant"},{"t":34.6,"r":1.12,"s":"Avant"},{"t":35.0,"r":1.3,"s":"Avant"},{"t":35.5,"r":1.2,"s":"Avant"},{"t":36.0,"r":1.38,"s":"Avant"},{"t":36.4,"r":1.28,"s":"Avant"},{"t":36.8,"r":1.46,"s":"Avant"},{"t":37.2,"r":1.36,"s":"Avant"},{"t":37.6,"r":1.52,"s":"Avant"},{"t":38.0,"r":1.44,"s":"Avant"},{"t":38.4,"r":1.62,"s":"Avant"},{"t":38.8,"r":1.5,"s":"Avant"},{"t":39.2,"r":1.72,"s":"Avant"},{"t":39.5,"r":1.58,"s":"Avant"},{"t":39.8,"r":1.8,"s":"Avant"},{"t":39.0,"r":1.78,"s":"Avant"},{"t":38.6,"r":1.7,"s":"Avant"},{"t":39.4,"r":1.55,"s":"Avant"},{"t":40.0,"r":1.62,"s":"Avant"},{"t":39.7,"r":1.48,"s":"Avant"},{"t":38.2,"r":1.38,"s":"Avant"},{"t":37.0,"r":1.3,"s":"Avant"},{"t":36.2,"r":1.22,"s":"Avant"},{"t":35.2,"r":1.15,"s":"Avant"},{"t":34.2,"r":1.08,"s":"Avant"},{"t":33.2,"r":1.0,"s":"Avant"},{"t":32.5,"r":0.98,"s":"Avant"},{"t":31.5,"r":0.95,"s":"Avant"},{"t":30.5,"r":0.9,"s":"Avant"},{"t":29.5,"r":0.86,"s":"Avant"},{"t":28.5,"r":0.82,"s":"Avant"},{"t":27.5,"r":0.78,"s":"Avant"},{"t":27.0,"r":0.7,"s":"Avant"},
  {"t":36.1,"r":0.25,"s":"Avant"},{"t":38.4,"r":0.68,"s":"Avant"},{"t":37.9,"r":1.01,"s":"Avant"},{"t":38.9,"r":1.25,"s":"Avant"},{"t":39.6,"r":1.2,"s":"Avant"},{"t":40.0,"r":1.15,"s":"Avant"},{"t":39.4,"r":0.93,"s":"Avant"},{"t":38.5,"r":1.42,"s":"Avant"},{"t":37.8,"r":1.33,"s":"Avant"},{"t":39.1,"r":1.35,"s":"Avant"},{"t":40.3,"r":0.85,"s":"Avant"},{"t":36.6,"r":1.1,"s":"Avant"},{"t":35.9,"r":1.05,"s":"Avant"},{"t":37.3,"r":1.15,"s":"Avant"}
 ]
},
"bounds": "flush",
"spacing": 160,
"hconcat": [
 {
  "width": 464, "height": 430,
  "view": {"stroke": "#4d4d4d", "strokeWidth": 1.5},
  "layer": [
   {"layer": [
    {"data": {"name": "concAvant"},
     "mark": {"type": "line", "color": "#555555", "strokeWidth": 1.8, "strokeDash": [1.5, 1.5], "interpolate": "monotone"},
     "encoding": {
      "x": {"field": "t", "type": "quantitative", "scale": {"domain": [10, 100], "nice": false, "zero": false},
            "axis": {"title": "Temps (min)", "values": [10, 20, 30, 40, 50, 60, 70, 80, 90, 100], "labelExpr": "datum.value == 10 || datum.value == 60 ? datum.label : ''", "tickSize": 7, "labelPadding": 15, "titleBaseline": "alphabetic", "titleY": 79}},
      "y": {"field": "c", "type": "quantitative", "scale": {"domain": [0, 0.28], "nice": false},
            "axis": {"orient": "left", "title": ["Concentration", "(mg/mL)"], "titleAngle": 0, "titleAlign": "center", "titleBaseline": "alphabetic", "titleX": -27.5, "titleY": -70, "titleLineHeight": 34, "values": [0, 0.04, 0.08, 0.12, 0.16, 0.2, 0.24, 0.28], "format": ".2f", "labelExpr": "replace(datum.label, '.', ',')", "tickSize": 8, "labelPadding": 19}}
     }},
    {"data": {"name": "concRedisp"},
     "mark": {"type": "line", "color": "#111111", "strokeWidth": 2.6, "interpolate": "monotone"},
     "encoding": {"x": {"field": "t", "type": "quantitative"}, "y": {"field": "c", "type": "quantitative"}}},
    {"data": {"values": [{}]}, "mark": {"type": "rule", "color": "#555555", "strokeWidth": 1.8, "strokeDash": [1.5, 1.5]},
     "encoding": {"x": {"datum": 38.65}, "x2": {"datum": 48.34}, "y": {"datum": 0.2667}}},
    {"data": {"values": [{}]}, "mark": {"type": "rule", "color": "#111111", "strokeWidth": 2.6},
     "encoding": {"x": {"datum": 38.65}, "x2": {"datum": 49.95}, "y": {"datum": 0.2471}}},
    {"data": {"values": [{}]}, "mark": {"type": "text", "align": "left", "baseline": "middle", "fontSize": 18.5, "color": "#333333", "font": "DejaVu Sans"},
     "encoding": {"x": {"datum": 50.28}, "y": {"datum": 0.2667}, "text": {"value": "Avant séchage"}}},
    {"data": {"values": [{}]}, "mark": {"type": "text", "align": "left", "baseline": "middle", "fontSize": 18.5, "color": "#333333", "font": "DejaVu Sans"},
     "encoding": {"x": {"datum": 50.28}, "y": {"datum": 0.2471}, "text": {"value": "Redispersé après séchage"}}},
    {"data": {"values": [{}]}, "mark": {"type": "rule", "color": "#ff1a1a", "strokeWidth": 1.5},
     "encoding": {"x": {"datum": 37.8}, "y": {"datum": 0.1653}, "y2": {"datum": 0.2144}}},
    {"data": {"values": [{}]}, "mark": {"type": "point", "shape": "triangle-up", "filled": true, "color": "#ff1a1a", "size": 200, "opacity": 1},
     "encoding": {"x": {"datum": 37.8}, "y": {"datum": 0.2195}}},
    {"data": {"values": [{}]}, "mark": {"type": "rule", "color": "#ff1a1a", "strokeWidth": 1.5},
     "encoding": {"x": {"datum": 35.08}, "x2": {"datum": 46.7}, "y": {"datum": 0.02355}}},
    {"data": {"values": [{}]}, "mark": {"type": "point", "shape": "triangle-right", "filled": true, "color": "#ff1a1a", "size": 200, "opacity": 1},
     "encoding": {"x": {"datum": 48.17}, "y": {"datum": 0.02355}}},
    {"data": {"values": [{}]}, "mark": {"type": "text", "align": "center", "baseline": "alphabetic", "fontSize": 23, "color": "#ff1a1a", "font": "DejaVu Sans"},
     "encoding": {"x": {"datum": 28.6}, "y": {"datum": 0.2056}, "text": {"value": "↗Rg"}}},
    {"data": {"values": [{}]}, "mark": {"type": "text", "align": "center", "baseline": "alphabetic", "fontSize": 23, "color": "#ff1a1a", "font": "DejaVu Sans"},
     "encoding": {"x": {"datum": 58.2}, "y": {"datum": 0.0181}, "text": {"value": "↗Rh"}}},
    {"data": {"values": [{}]}, "mark": {"type": "text", "align": "center", "baseline": "alphabetic", "fontSize": 23, "color": "#000000", "font": "DejaVu Sans"},
     "encoding": {"x": {"datum": 93.4}, "y": {"datum": 0.0268}, "text": {"value": "A"}}}
   ]},
   {"layer": [
    {"data": {"name": "rgAvant"},
     "mark": {"type": "line", "color": "#555555", "strokeWidth": 1.8, "strokeDash": [1.5, 1.5], "interpolate": "monotone"},
     "encoding": {
      "x": {"field": "t", "type": "quantitative"},
      "y": {"field": "rg", "type": "quantitative", "scale": {"type": "log", "domain": [1, 1000], "nice": false},
            "axis": {"orient": "right", "title": "Rg (nm)", "titleAngle": 0, "titleAlign": "center", "titleBaseline": "alphabetic", "titleX": 34.5, "titleY": -30, "values": [1, 2, 3, 4, 5, 6, 7, 8, 9, 10, 20, 30, 40, 50, 60, 70, 80, 90, 100, 200, 300, 400, 500, 600, 700, 800, 900, 1000], "labelExpr": "datum.value == 1000 ? '1 000' : datum.value == 100 ? '100' : datum.value == 10 ? '10' : datum.value == 1 ? '1' : ''", "tickSize": 7, "labelPadding": 20}}
     }},
    {"data": {"name": "rgRedisp"},
     "mark": {"type": "line", "color": "#111111", "strokeWidth": 2.6, "interpolate": "monotone"},
     "encoding": {"x": {"field": "t", "type": "quantitative"}, "y": {"field": "rg", "type": "quantitative"}}}
   ]}
  ],
  "resolve": {"scale": {"y": "independent"}}
 },
 {
  "width": 459, "height": 430,
  "layer": [
   {"data": {"name": "ratio"},
    "mark": {"type": "point", "strokeWidth": 1, "opacity": 1},
    "encoding": {
     "x": {"field": "t", "type": "quantitative", "scale": {"domain": [15, 49.6], "nice": false, "zero": false},
           "axis": {"title": "Temps (min)", "values": [15, 20, 25, 30, 35, 40, 45], "labelExpr": "(datum.value - 15) % 10 == 0 ? datum.label : ''", "tickSize": 8, "labelPadding": 17, "titleBaseline": "alphabetic", "titleY": 83}},
     "y": {"field": "r", "type": "quantitative", "scale": {"domain": [0, 3], "nice": false},
           "axis": {"title": "Rg/Rh", "titleAngle": 0, "titleAlign": "center", "titleBaseline": "alphabetic", "titleX": -19, "titleY": -30, "values": [0, 0.5, 1, 1.5, 2, 2.5, 3], "format": ".1~f", "labelExpr": "replace(datum.label, '.', ',')", "tickSize": 8, "labelPadding": 13}},
     "shape": {"field": "s", "type": "nominal", "scale": {"domain": ["Avant", "Après"], "range": ["square", "circle"]}, "legend": null},
     "fill": {"field": "s", "type": "nominal", "scale": {"domain": ["Avant", "Après"], "range": ["#f0f0f0", "#000000"]}, "legend": null},
     "stroke": {"field": "s", "type": "nominal", "scale": {"domain": ["Avant", "Après"], "range": ["#9a9a9a", "#000000"]}, "legend": null},
     "size": {"field": "s", "type": "nominal", "scale": {"domain": ["Avant", "Après"], "range": [22, 40]}, "legend": null}
    }},
   {"data": {"values": [{}]}, "mark": {"type": "rule", "color": "#c6ece4", "strokeWidth": 9, "opacity": 0.5},
    "encoding": {"y": {"datum": 1.4}}},
   {"data": {"values": [{}]}, "mark": {"type": "rule", "color": "#3aa35a", "strokeWidth": 2},
    "encoding": {"y": {"datum": 1.4}}},
   {"data": {"values": [{}]}, "mark": {"type": "rule", "color": "#fbd9dc", "strokeWidth": 9, "opacity": 0.5},
    "encoding": {"y": {"datum": 0.775}}},
   {"data": {"values": [{}]}, "mark": {"type": "rule", "color": "#e8454a", "strokeWidth": 2},
    "encoding": {"y": {"datum": 0.775}}},
   {"data": {"values": [{}]}, "mark": {"type": "point", "shape": "square", "filled": false, "fill": "#f0f0f0", "stroke": "#9a9a9a", "strokeWidth": 1, "size": 22, "opacity": 1},
    "encoding": {"x": {"datum": 15.75, "axis": null}, "y": {"datum": 2.861}}},
   {"data": {"values": [{}]}, "mark": {"type": "point", "shape": "circle", "filled": true, "color": "#000000", "size": 28, "opacity": 1},
    "encoding": {"x": {"datum": 15.75, "axis": null}, "y": {"datum": 2.583}}},
   {"data": {"values": [{}]}, "mark": {"type": "text", "align": "left", "baseline": "middle", "fontSize": 22, "color": "#555555", "font": "DejaVu Sans"},
    "encoding": {"x": {"datum": 17.79, "axis": null}, "y": {"datum": 2.861}, "text": {"value": "Avant séchage"}}},
   {"data": {"values": [{}]}, "mark": {"type": "text", "align": "left", "baseline": "middle", "fontSize": 22, "color": "#555555", "font": "DejaVu Sans"},
    "encoding": {"x": {"datum": 17.79, "axis": null}, "y": {"datum": 2.583}, "text": {"value": "Après séchage redispersé"}}},
   {"data": {"values": [{}]}, "mark": {"type": "text", "align": "center", "baseline": "alphabetic", "fontSize": 23, "color": "#000000", "font": "DejaVu Sans"},
    "encoding": {"x": {"datum": 44.77, "axis": {"orient": "top", "labels": false, "ticks": false, "title": null, "domainColor": "#4d4d4d", "domainWidth": 1.5}}, "y": {"datum": 0.33}, "text": {"value": "B"}}}
  ],
  "resolve": {"axis": {"x": "independent"}}
 }
]
}
